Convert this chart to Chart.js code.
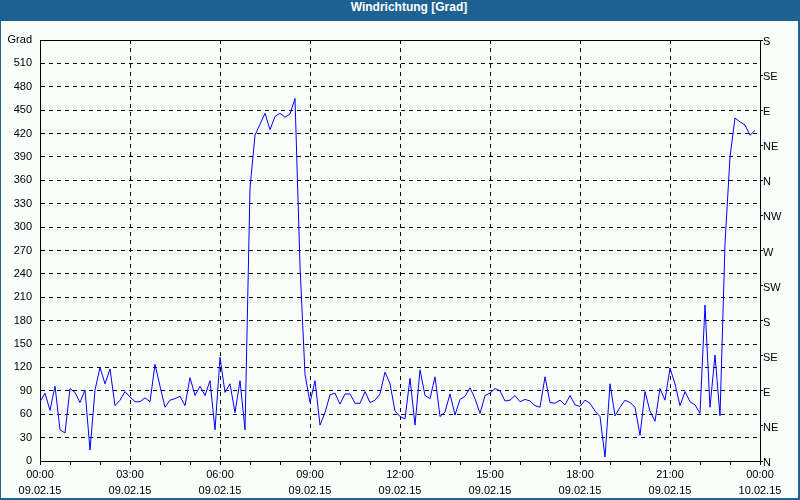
<!DOCTYPE html>
<html>
<head>
<meta charset="utf-8">
<script src="https://cdn.jsdelivr.net/npm/chart.js@4.4.0/dist/chart.umd.min.js"></script>
<style>
  html, body { margin: 0; padding: 0; background: #fff; }
  #frame { position: relative; width: 800px; height: 500px; background: #1e6294; }
  #title { position: absolute; left: 0; top: 0; width: 818px; height: 21px; line-height: 21px;
           text-align: center; color: #fff; font: bold 12px "Liberation Sans", Arial, sans-serif; }
  #plot { position: absolute; left: 1px; top: 21px; width: 797px; height: 477px; background: #fafefb; }
</style>
</head>
<body>
<div id="frame">
  <div id="title">Windrichtung [Grad]</div>
  <div id="plot"><canvas id="chart"></canvas></div>
</div>
<script>
// one reading every 10 minutes, 09.02.15 00:00 .. 23:50
const STEP_MIN = 10;
const direction = [
  76, 87, 65, 96, 40, 36, 93, 88, 75, 91, 14, 91,
  120, 99, 118, 71, 78, 89, 82, 76, 76, 81, 76, 124,
  96, 69, 78, 80, 83, 71, 107, 84, 96, 84, 103, 40,
  133, 88, 99, 62, 103, 40, 350, 418, 432, 446, 425, 442,
  446, 441, 445, 465, 250, 111, 75, 103, 46, 62, 85, 87,
  73, 86, 86, 74, 74, 89, 75, 78, 86, 114, 99, 64,
  57, 54, 106, 46, 117, 84, 80, 108, 57, 63, 86, 59,
  79, 83, 94, 80, 61, 84, 87, 93, 90, 77, 78, 84,
  76, 79, 77, 71, 69, 108, 75, 74, 78, 72, 84, 72,
  70, 78, 74, 64, 57, 5, 99, 58, 69, 78, 75, 69,
  33, 89, 64, 51, 93, 78, 119, 99, 71, 89, 76, 72,
  61, 200, 69, 136, 58, 279, 390, 440, 435, 431, 418, 424
];
const timeLabels = ['00:00', '03:00', '06:00', '09:00', '12:00', '15:00', '18:00', '21:00', '00:00'];
const dateLabels = ['09.02.15', '09.02.15', '09.02.15', '09.02.15', '09.02.15', '09.02.15', '09.02.15', '09.02.15', '10.02.15'];
const compassLabels = ['N', 'NE', 'E', 'SE', 'S', 'SW', 'W', 'NW', 'N', 'NE', 'E', 'SE', 'S'];

const FONT = {family: '"Liberation Sans", Arial, sans-serif', size: 11, lineHeight: 16 / 11};
Chart.defaults.color = '#000';

new Chart(document.getElementById('chart'), {
  type: 'line',
  data: {
    datasets: [{
      data: direction.map((v, i) => ({x: i * STEP_MIN, y: v})),
      borderColor: '#0000ff',
      borderWidth: 1,
      pointRadius: 0,
      tension: 0,
      fill: false,
    }],
  },
  options: {
    animation: false,
    responsive: true,
    maintainAspectRatio: false,
    devicePixelRatio: 1,
    layout: {padding: 0},
    plugins: {legend: {display: false}, tooltip: {enabled: false}},
    scales: {
      x: {
        type: 'linear',
        position: 'bottom',
        min: 0,
        max: 1440,
        afterFit: s => { s.height = 37; },
        ticks: {
          stepSize: 60,
          autoSkip: false,
          maxRotation: 0,
          padding: 2,
          font: FONT,
          callback: v => v % 180 === 0 ? [timeLabels[v / 180], dateLabels[v / 180]] : '',
        },
        grid: {
          color: c => (c.tick && c.tick.value % 180 === 0) ? '#000' : 'rgba(0,0,0,0)',
          tickColor: '#000',
          tickLength: 4,
          lineWidth: 1,
        },
        border: {color: '#000', width: 1, dash: [4, 4]},
      },
      xTop: {
        type: 'linear',
        position: 'top',
        min: 0,
        max: 1440,
        afterFit: s => { s.height = 19; },
        ticks: {display: false},
        grid: {display: false},
        border: {display: true, color: '#000', width: 1},
      },
      y: {
        position: 'left',
        min: 0,
        max: 540,
        afterFit: s => { s.width = 39; },
        ticks: {
          stepSize: 30,
          padding: 8,
          font: FONT,
          callback: v => v === 540 ? 'Grad' : String(v),
        },
        grid: {color: '#000', drawTicks: false, lineWidth: 1},
        border: {color: '#000', width: 1, dash: [4, 4]},
      },
      yR: {
        position: 'right',
        min: 0,
        max: 540,
        afterFit: s => { s.width = 38; },
        ticks: {
          stepSize: 45,
          padding: 0,
          labelOffset: 2,
          font: FONT,
          callback: v => compassLabels[Math.round(v / 45)],
        },
        grid: {drawOnChartArea: false, color: '#000', tickColor: '#000', tickLength: 3},
        border: {color: '#000', width: 1},
      },
    },
  },
});
</script>
</body>
</html>
